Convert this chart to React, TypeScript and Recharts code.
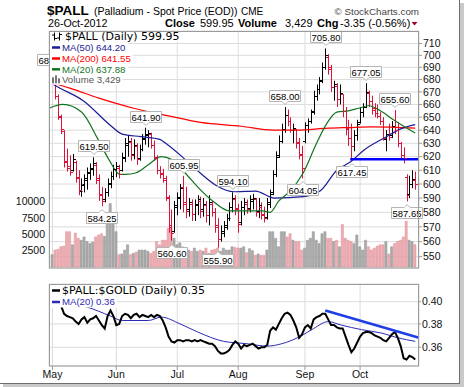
import React from 'react'
import { ComposedChart, Bar, Line, Scatter, XAxis, YAxis, CartesianGrid, ReferenceLine, Cell } from 'recharts'

const FONT = '"Liberation Sans", Arial, Helvetica, sans-serif'
const WIDE = '"DejaVu Sans", Verdana, sans-serif'
const RED = '#dc143c'

const months = ['May', 'Jun', 'Jul', 'Aug', 'Sep', 'Oct']
const monthStart = [0, 22, 43, 64, 87, 106]
const priceTicks = [550, 560, 570, 580, 590, 600, 610, 620, 630, 640, 650, 660, 670, 680, 690, 700, 710]
const volumeTicks = [2500, 5000, 7500, 10000]
const ratioTicks = [0.36, 0.38, 0.4]
const X_DOMAIN = [-1.2, 126.3]

// daily OHLC, 1 May .. 26 Oct 2012
const highs = [
  687, 677, 668, 652, 640, 626, 621, 622, 617, 610,
  604, 607, 612, 615, 619.5, 616, 607, 598, 597, 604,
  609, 614, 616, 614, 623, 634, 636, 634, 633, 630,
  629, 637, 641.9, 640, 638, 632, 621, 613, 611, 606,
  592, 582, 588, 594, 600, 605.95, 598, 590, 589, 589,
  592, 591, 590, 588, 592, 588, 583, 576, 571, 574,
  579, 587, 594.1, 592, 586, 588, 590, 589, 592, 593,
  590, 590, 587, 584, 590, 596, 610, 624, 636, 645,
  658, 656, 650, 645, 641, 634, 628, 646, 649, 656,
  671, 676, 682, 694, 705.8, 701, 692, 679, 677, 676,
  668, 658, 648, 645, 640, 648, 658, 661, 677.05, 671,
  667, 661, 660, 654, 650, 640, 645, 647, 655.6, 646,
  631, 627, 607, 606, 610, 609,
]
const lows = [
  676, 664, 648, 637, 612, 609, 606, 609, 601, 592,
  591, 594, 596, 603, 606, 600, 588, 584.25, 587, 591,
  597, 603, 605, 604, 609, 616, 620, 617, 618, 614,
  617, 624, 629, 627, 626, 617, 607, 604, 601, 588,
  566, 560.6, 566, 578, 582, 580, 576, 577, 574, 574,
  578, 576, 577, 573, 571, 577, 566, 555.9, 560, 563,
  568, 574, 580, 578, 566, 571, 578, 579, 580, 582,
  577, 576, 575, 573, 575, 583, 592, 605, 619, 630,
  638, 643, 638, 630, 626, 618, 604.05, 630, 638, 645,
  652, 663, 668, 677, 688, 684, 670, 663, 658, 660,
  650, 636, 628, 617.45, 624, 632, 645, 650, 657, 658,
  652, 650, 649, 644, 632, 624, 632, 634, 637, 627,
  618, 615, 587.65, 590, 597, 596,
]
const opens = [
  678, 676, 667, 650, 639, 617, 613, 610, 616, 605,
  595, 599, 603, 608, 611, 614, 604, 593, 589, 594,
  600, 606, 611, 612, 610, 619, 629, 631, 622, 628,
  619, 626, 633, 636, 637, 629, 619, 610, 608, 603,
  590, 571, 567, 584, 590, 598, 587, 582, 586, 579,
  585, 588, 582, 585, 578, 586, 580, 571, 562, 566,
  570, 576, 584, 589, 583, 573, 584, 586, 583, 588,
  589, 581, 584, 579, 577, 586, 594, 607, 621, 632,
  641, 652, 647, 640, 641, 631, 622, 632, 644, 647,
  655, 667, 672, 680, 690, 699, 689, 674, 675, 664,
  668, 655, 641, 634, 628, 636, 646, 654, 658, 669,
  663, 657, 653, 651, 647, 633, 637, 636, 643, 640,
  630, 621, 605, 593, 600, 603,
]
const closes = [
  680, 667, 651, 641, 616, 612, 609, 618, 604, 596,
  600, 604, 609, 612, 615, 603, 592, 588, 594, 601,
  606, 611, 613, 607, 620, 630, 632, 621, 629, 618,
  626, 634, 637, 638, 629, 620, 610, 607, 604, 591,
  570, 566, 585, 591, 597, 586, 581, 587, 579, 586,
  589, 581, 586, 578, 587, 580, 570, 562, 567, 571,
  576, 584, 590, 582, 572, 584, 587, 582, 589, 590,
  580, 585, 578, 576, 587, 593, 607, 620, 632, 641,
  652, 647, 640, 642, 630, 621, 612, 644, 647, 654,
  667, 672, 679, 690, 700, 690, 674, 676, 664, 669,
  655, 642, 634, 628, 636, 645, 654, 658, 670, 663,
  656, 653, 651, 647, 634, 637, 635, 643, 640, 630,
  621, 619, 592, 600, 603.3, 599.95,
]
const volumes = [
  1900, 2600, 2700, 3100, 3200, 5400, 5400, 3400, 5200, 4400,
  4100, 4600, 3900, 3600, 3800, 4600, 4900, 5100, 4700, 7900,
  9700, 6900, 5400, 1900, 2000, 2600, 3400, 1900, 2100, 2300,
  2600, 2600, 2600, 2400, 2100, 2400, 3900, 3400, 4100, 4100,
  5900, 5900, 4400, 3400, 3700, 3100, 2600, 2600, 2400, 2900,
  2400, 2600, 2400, 2900, 2100, 2600, 2700, 2900, 2400, 2900,
  2600, 2600, 3100, 3000, 2900, 2900, 3100, 2200, 2800, 2500,
  1800, 2000, 1800, 1800, 2600, 5400, 5400, 4400, 3100, 5400,
  5400, 4600, 5100, 4100, 3900, 3900, 2600, 2900, 4100, 4400,
  5400, 4100, 3600, 5100, 5400, 4400, 4400, 3900, 4100, 3100,
  6500, 4400, 4100, 3900, 3600, 4900, 3100, 2600, 4100, 3100,
  2600, 2900, 3200, 3400, 3400, 3900, 2000, 3100, 3600, 3900,
  4100, 4600, 7000, 4100, 3900, 3429,
]

// moving averages as [day, value]
const ma50 = [
  [-1.2, 678], [2.6, 673], [10.6, 663], [19.8, 644], [24, 637], [30.5, 635], [37, 633], [39, 630],
  [45.7, 618], [50.9, 608], [56.4, 599], [62.6, 594.5], [70, 595], [76.4, 590], [86.4, 591],
  [92.2, 595], [98, 610], [102.6, 616], [107.4, 625], [114.3, 634], [120, 641], [125, 644.2],
]
const ma200 = [
  [-1.2, 678], [6, 673], [16, 665], [28, 657], [40, 651], [51, 646], [65, 643], [76, 640],
  [84, 640], [95, 641.5], [102, 642], [110, 642.5], [125, 641.55],
]
const ma20 = [
  [-1.2, 657], [3.6, 660], [10, 654], [15.7, 633], [19.4, 618], [23.2, 607], [25.3, 607],
  [28.6, 608], [33, 614], [37.5, 620], [41, 618], [45.7, 608], [50.9, 596], [55.2, 588],
  [61, 581], [66.7, 581], [72.5, 581], [75, 580], [78, 588], [81.4, 594], [86.4, 608],
  [91, 630], [94.5, 645], [98, 654], [102, 655], [105.5, 657], [109, 659], [113, 655],
  [117.5, 648], [121, 643], [125, 637.88],
]

// $PALL:$GOLD ratio
const ratio = [
  0.398, 0.399, 0.397, 0.396, 0.389, 0.387, 0.386, 0.385, 0.382, 0.38,
  0.384, 0.386, 0.381, 0.384, 0.385, 0.387, 0.383, 0.379, 0.376, 0.387,
  0.392, 0.387, 0.379, 0.38, 0.387, 0.389, 0.388, 0.385, 0.388, 0.389,
  0.386, 0.388, 0.387, 0.386, 0.388, 0.386, 0.388, 0.387, 0.383, 0.377,
  0.369, 0.365, 0.364, 0.366, 0.366, 0.365, 0.366, 0.366, 0.365, 0.366,
  0.365, 0.366, 0.365, 0.364, 0.363, 0.363, 0.361, 0.357, 0.355, 0.355,
  0.356, 0.358, 0.362, 0.365, 0.363, 0.359, 0.362, 0.361, 0.362, 0.363,
  0.361, 0.359, 0.36, 0.36, 0.362, 0.374, 0.377, 0.375, 0.38, 0.385,
  0.389, 0.39, 0.388, 0.383, 0.377, 0.368, 0.371, 0.377, 0.379, 0.376,
  0.384, 0.386, 0.387, 0.389, 0.389, 0.384, 0.379, 0.379, 0.377, 0.376,
  0.376, 0.369, 0.362, 0.356, 0.359, 0.364, 0.369, 0.372, 0.373, 0.373,
  0.372, 0.37, 0.369, 0.368, 0.366, 0.365, 0.368, 0.371, 0.373, 0.368,
  0.361, 0.351, 0.35, 0.353, 0.352, 0.35,
]
const ratioMa20 = [
  [0, 0.401], [6, 0.399], [12, 0.395], [20, 0.387], [24, 0.383], [33, 0.383], [37.5, 0.386],
  [44, 0.38], [50, 0.373], [59, 0.365], [67, 0.363], [74, 0.361], [79, 0.363], [86, 0.37],
  [90, 0.376], [95, 0.382], [99.5, 0.379], [106.5, 0.375], [113.5, 0.372], [119, 0.368], [125, 0.365],
]

// annotations
const calloutDays = [0, 14, 17, 32, 41, 45, 57, 62, 80, 86, 94, 103, 108, 118, 122]
const calloutAtHigh = [true, true, false, true, false, true, false, true, true, false, true, false, true, true, false]
const supportLine = [[102.6, 618], [126.3, 618]]
const ratioTrend = [[94, 0.392], [126.3, 0.368]]

const bars = highs.map((h, i) => ({
  i,
  range: [lows[i], h],
  open: opens[i],
  close: closes[i],
  vol: volumes[i],
  up: i === 0 || closes[i] >= closes[i - 1],
}))
const pts = (arr: number[][]) => arr.map(([i, v]) => ({ i, v }))
const callouts = calloutDays.map((d, k) => ({ i: d, y: calloutAtHigh[k] ? highs[d] : lows[d], top: calloutAtHigh[k] }))
const ratioData = ratio.map((r, i) => ({ i, r }))

const axisTick = { fontSize: 10.5, fill: '#111', fontFamily: FONT }

const HighLow = (p: any) => {
  const { x, y, width, height, payload } = p
  if (x == null || y == null || !height) return null
  const cx = Math.round(x + width / 2) + 0.5
  return <line x1={cx} x2={cx} y1={y} y2={y + height} stroke={payload.up ? '#000' : RED} strokeWidth={1} />
}

const makeTick = (side: number) => (p: any) => {
  if (p.cx == null || p.cy == null) return <g />
  const cx = Math.round(p.cx) + 0.5
  const cy = Math.round(p.cy) + 0.5
  return <line x1={cx} x2={cx + side * 2.5} y1={cy} y2={cy} stroke={p.payload.up ? '#000' : RED} strokeWidth={1} />
}
const OpenTick = makeTick(-1)
const CloseTick = makeTick(1)

const Callout = (p: any) => {
  const { cx, cy, payload } = p
  if (cx == null || cy == null) return <g />
  const w = 31
  const h = 11
  const x0 = Math.round(cx - w / 2) + 0.5
  const tx = x0 + w / 2
  let d = ''
  let t = 0
  if (payload.top) {
    const b = Math.round(cy) - 5.5
    t = b - h
    d = `M${x0},${t}H${x0 + w}V${b}H${tx + 3}L${tx},${b + 3}L${tx - 3},${b}H${x0}Z`
  } else {
    t = Math.round(cy) + 6.5
    const b = t + h
    d = `M${x0},${t}H${tx - 3}L${tx},${t - 3}L${tx + 3},${t}H${x0 + w}V${b}H${x0}Z`
  }
  return (
    <g>
      <path d={d} fill="#fff" stroke="#b4b4b4" />
      <text x={tx} y={t + 9} textAnchor="middle" fontSize={9.5} fontFamily={FONT} fill="#000">
        {payload.y.toFixed(2)}
      </text>
    </g>
  )
}

const monthLabel = (v: number) => months[monthStart.indexOf(v)] ?? ''

const PriceChart = () => (
  <ComposedChart width={464} height={284} data={bars} margin={{ top: 31, right: 0, bottom: 0, left: 0 }}>
    <XAxis xAxisId="x" type="number" dataKey="i" domain={X_DOMAIN} ticks={monthStart} interval={0}
      tickFormatter={monthLabel} tick={axisTick} tickSize={4} tickMargin={1} height={16}
      axisLine={false} stroke="#999" />
    <XAxis xAxisId="v" type="number" dataKey="i" domain={X_DOMAIN} hide />
    <XAxis xAxisId="c" type="number" dataKey="i" domain={X_DOMAIN} hide />
    <YAxis yAxisId="v" orientation="left" domain={[-150, 36100]} ticks={volumeTicks} width={49}
      tick={axisTick} tickLine={false} axisLine={false} tickSize={0} tickMargin={4} />
    <YAxis yAxisId="p" orientation="right" scale="log" domain={[542.6, 720.7]} ticks={priceTicks} width={45}
      tick={axisTick} tickSize={3} tickMargin={1} axisLine={false} stroke="#999" interval={0} />
    <CartesianGrid xAxisId="x" yAxisId="p" stroke="#dcdcdc" />
    <Bar xAxisId="v" yAxisId="v" dataKey="vol" barSize={2.2} isAnimationActive={false}>
      {bars.map((b) => (
        <Cell key={b.i} fill={b.up ? '#ababab' : '#eeadb3'} stroke={b.up ? '#929292' : '#dc8f97'} strokeWidth={0.5} />
      ))}
    </Bar>
    <Bar xAxisId="x" yAxisId="p" dataKey="range" barSize={3} shape={HighLow} isAnimationActive={false} />
    <Line xAxisId="x" yAxisId="p" data={pts(ma200)} dataKey="v" type="monotone" stroke="#ff0000" strokeWidth={1.2} dot={false} isAnimationActive={false} />
    <Line xAxisId="x" yAxisId="p" data={pts(ma50)} dataKey="v" type="monotone" stroke="#1c1c96" strokeWidth={1.2} dot={false} isAnimationActive={false} />
    <Line xAxisId="x" yAxisId="p" data={pts(ma20)} dataKey="v" type="monotone" stroke="#12751f" strokeWidth={1.2} dot={false} isAnimationActive={false} />
    <Scatter xAxisId="x" yAxisId="p" dataKey="open" shape={OpenTick} isAnimationActive={false} />
    <Scatter xAxisId="x" yAxisId="p" dataKey="close" shape={CloseTick} isAnimationActive={false} />
    <ReferenceLine xAxisId="x" yAxisId="p" segment={supportLine.map(([x, y]) => ({ x, y }))} stroke="#0000ff" strokeWidth={2.5} />
    <Scatter xAxisId="c" yAxisId="p" data={callouts} dataKey="y" shape={Callout} isAnimationActive={false} />
  </ComposedChart>
)

const RatioChart = () => (
  <ComposedChart width={464} height={104} data={ratioData} margin={{ top: 1, right: 0, bottom: 0, left: 49 }}>
    <XAxis xAxisId="x" type="number" dataKey="i" domain={X_DOMAIN} ticks={monthStart} interval={0}
      tickFormatter={monthLabel} tick={axisTick} tickSize={4} tickMargin={1} height={21}
      axisLine={false} stroke="#999" />
    <YAxis yAxisId="r" orientation="right" scale="log" domain={[0.3448, 0.4167]} ticks={ratioTicks} width={45}
      tick={axisTick} tickSize={2} tickMargin={1} axisLine={false} stroke="#999"
      tickFormatter={(v: number) => v.toFixed(2)} interval={0} />
    <CartesianGrid xAxisId="x" yAxisId="r" stroke="#dcdcdc" />
    <Line xAxisId="x" yAxisId="r" data={pts(ratioMa20)} dataKey="v" type="monotone" stroke="#2b2bb5" strokeWidth={1} dot={false} isAnimationActive={false} />
    <Line xAxisId="x" yAxisId="r" dataKey="r" type="linear" stroke="#000" strokeWidth={2} dot={false} isAnimationActive={false} />
    <ReferenceLine xAxisId="x" yAxisId="r" segment={ratioTrend.map(([x, y]) => ({ x, y }))} stroke="#1f3fe6" strokeWidth={2.5} />
  </ComposedChart>
)

const LegendRow = ({ y, w, color, label, font = FONT, size = 9.6, icon = 'line' }: any) => (
  <g>
    <rect x={49.5} y={y - 5.5} width={w} height={11} fill="#fff" />
    {icon === 'line' && <line x1={52} x2={60} y1={y} y2={y} stroke={color} strokeWidth={2.5} />}
    {icon === 'vol' && (
      <g fill="#777">
        <rect x={52} y={y - 2} width={2} height={6} />
        <rect x={55} y={y - 4} width={2} height={8} />
        <rect x={58} y={y - 1} width={2} height={5} />
      </g>
    )}
    {icon === 'ohlc' && (
      <g stroke="#000" strokeWidth={1}>
        <line x1={54.5} x2={54.5} y1={y - 4} y2={y + 4} />
        <line x1={52} x2={54.5} y1={y - 1.5} y2={y - 1.5} />
        <line x1={54.5} x2={57} y1={y + 2} y2={y + 2} />
        <line x1={59.5} x2={59.5} y1={y - 4} y2={y + 4} />
        <line x1={57} x2={59.5} y1={y + 1.5} y2={y + 1.5} />
        <line x1={59.5} x2={62} y1={y - 2} y2={y - 2} />
      </g>
    )}
    <text x={icon === 'ohlc' ? 65 : 62} y={y + size * 0.36} fontSize={size} fontFamily={font} fill={color}>{label}</text>
  </g>
)

const Overlay = () => (
  <svg width={464} height={387} style={{ position: 'absolute', left: 0, top: 0, pointerEvents: 'none' }}>
    {/* frame + shadow */}
    <rect x={460} y={3} width={4} height={384} fill="#c9c9c9" />
    <rect x={3} y={384} width={461} height={3} fill="#c9c9c9" />
    <line x1={459.5} x2={459.5} y1={0} y2={384} stroke="#6d6d6d" />
    <line x1={0} x2={460} y1={383.5} y2={383.5} stroke="#6d6d6d" />

    {/* title */}
    <text x={47} y={15} fontSize={13.5} fontWeight="bold" fontFamily={FONT}>$PALL</text>
    <text x={94} y={14.5} fontSize={10.5} fontFamily={FONT}>(Palladium - Spot Price (EOD))</text>
    <text x={241} y={14.5} fontSize={10} fontFamily={FONT}>CME</text>
    <text x={419} y={14.5} fontSize={9.8} fontFamily={FONT} fill="#444" textAnchor="end">© StockCharts.com</text>
    <text x={48} y={27} fontSize={10.7} fontFamily={FONT}>26-Oct-2012</text>
    <g fontSize={11} fontFamily={FONT}>
      <text x={165} y={26.5} fontWeight="bold">Close</text>
      <text x={200} y={26.5}>599.95</text>
      <text x={238} y={26.5} fontWeight="bold">Volume</text>
      <text x={285} y={26.5}>3,429</text>
      <text x={317} y={26.5} fontWeight="bold">Chg</text>
      <text x={340} y={26.5}>-3.35 (-0.56%)</text>
    </g>
    <path d="M411.5,22 L417.5,22 L414.5,25.5 Z" fill="#a0002a" />

    {/* main legend */}
    <LegendRow y={36.5} w={133} color="#000" label="$PALL (Daily) 599.95" font={WIDE} size={11} icon="ohlc" />
    <LegendRow y={47.5} w={79} color="#1c1c96" label="MA(50) 644.20" />
    <LegendRow y={58.5} w={83} color="#ff0000" label="MA(200) 641.55" />
    <LegendRow y={69.3} w={79} color="#12751f" label="MA(20) 637.88" />
    <LegendRow y={79.3} w={73} color="#555" label="Volume 3,429" icon="vol" />

    {/* ratio legend */}
    <LegendRow y={290.5} w={162} color="#000" label="$PALL:$GOLD (Daily) 0.35" font={WIDE} size={11} />
    <LegendRow y={302} w={68} color="#2b2bb5" label="MA(20) 0.36" />

    {/* panel borders */}
    <rect x={49.5} y={31.5} width={369} height={236.5} fill="none" stroke="#9a9a9a" />
    <rect x={49.5} y={284.5} width={369} height={81.5} fill="none" stroke="#9a9a9a" />
  </svg>
)

export default function App() {
  return (
    <div style={{ position: 'absolute', left: 0, top: 0, width: 464, height: 387, background: '#fff', fontFamily: FONT }}>
      <div style={{ position: 'absolute', left: 0, top: 0 }}>
        <PriceChart />
      </div>
      <div style={{ position: 'absolute', left: 0, top: 283 }}>
        <RatioChart />
      </div>
      <Overlay />
    </div>
  )
}
